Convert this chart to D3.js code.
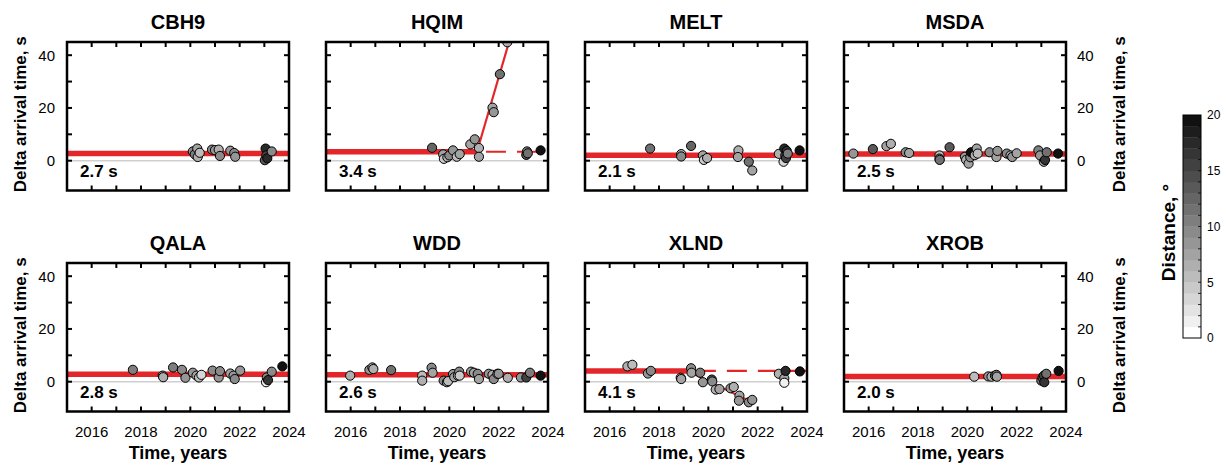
<!DOCTYPE html>
<html>
<head>
<meta charset="utf-8">
<script src="https://cdn.jsdelivr.net/npm/d3@7"></script>
<style>
  body { margin: 0; background: #fff; }
  text { font-family: "Liberation Sans", Arial, sans-serif; fill: #000; }
</style>
</head>
<body>
<div id="chart"></div>
<script>
// station names and the static offset for each (s)
const stations = ["CBH9", "HQIM", "MELT", "MSDA", "QALA", "WDD", "XLND", "XROB"];
const offsets = [2.7, 3.4, 2.1, 2.5, 2.8, 2.6, 4.1, 2.0];

// [year, delta arrival time, distance]
const cbh9 = [[2020.10, 3.5, 9], [2020.18, 2.4, 10], [2020.28, 4.6, 7], [2020.30, 1.4, 6], [2020.38, 3.0, 5],
  [2020.88, 4.2, 9], [2021.00, 4.0, 8], [2021.15, 4.2, 6], [2021.20, 1.8, 9], [2021.62, 3.8, 8],
  [2021.78, 2.9, 9], [2021.82, 1.5, 8], [2023.02, 0.2, 13], [2023.05, 4.6, 17], [2023.08, 2.0, 15],
  [2023.12, 0.9, 17], [2023.30, 3.5, 9]];
const hqim = [[2019.30, 4.9, 12], [2019.75, 2.4, 7], [2019.78, 0.7, 4], [2019.92, 1.3, 6], [2020.00, 2.0, 9],
  [2020.15, 3.9, 8], [2020.30, 1.5, 5], [2020.42, 2.5, 7], [2020.85, 6.2, 7], [2021.03, 8.1, 8],
  [2021.20, 4.8, 6], [2021.20, 1.5, 7], [2021.75, 20.1, 7], [2021.80, 18.4, 8], [2022.05, 32.8, 11],
  [2022.35, 44.9, 6], [2023.12, 2.2, 13], [2023.15, 3.5, 9], [2023.18, 2.8, 11], [2023.70, 3.9, 20]];
const melt = [[2017.64, 4.6, 11], [2018.90, 2.5, 6], [2018.90, 1.6, 9], [2019.30, 5.6, 12], [2019.78, 2.0, 7],
  [2019.82, 0.3, 4], [2019.95, 1.0, 6], [2021.22, 3.9, 6], [2021.20, 1.4, 7], [2021.64, -0.4, 11],
  [2021.78, -3.7, 7], [2022.86, 2.6, 6], [2023.05, -0.4, 3], [2023.08, 4.6, 17], [2023.12, 2.0, 14],
  [2023.15, 1.0, 15], [2023.18, 3.7, 16], [2023.22, 2.7, 10], [2023.70, 3.9, 20]];
const msda = [[2015.38, 2.7, 8], [2016.17, 4.4, 13], [2016.72, 5.5, 7], [2016.90, 6.4, 6], [2017.50, 3.2, 9],
  [2017.64, 2.9, 7], [2018.87, 2.0, 5], [2018.87, 0.8, 9], [2018.88, 0.3, 11], [2019.28, 5.1, 13],
  [2019.90, 1.5, 8], [2019.95, 0.3, 6], [2020.05, -1.1, 7], [2020.12, 1.3, 9], [2020.15, 3.2, 19],
  [2020.30, 2.1, 6], [2020.38, 4.6, 7], [2020.42, 2.7, 5], [2020.90, 3.2, 9], [2021.18, 1.4, 7],
  [2021.22, 3.7, 8], [2021.60, 2.7, 9], [2021.75, 2.0, 7], [2021.82, 1.4, 8], [2022.00, 2.8, 7],
  [2022.88, 3.9, 10], [2022.95, 2.0, 8], [2023.10, -0.4, 7], [2023.15, 0.3, 16], [2023.22, 3.2, 11],
  [2023.68, 2.7, 19]];
const qala = [[2017.67, 4.5, 10], [2018.88, 2.3, 8], [2018.90, 1.7, 6], [2019.30, 5.4, 10], [2019.66, 4.5, 9],
  [2019.80, 1.5, 8], [2020.10, 3.4, 8], [2020.25, 2.3, 7], [2020.35, 1.6, 5], [2020.45, 2.6, 3],
  [2020.90, 4.2, 9], [2021.15, 1.6, 8], [2021.20, 4.0, 9], [2021.62, 3.1, 7], [2021.75, 2.3, 8],
  [2021.80, 1.0, 9], [2022.02, 4.2, 8], [2023.07, -0.2, 1], [2023.10, 1.6, 9], [2023.15, 0.6, 16],
  [2023.30, 3.8, 9], [2023.73, 5.8, 20]];
const wdd = [[2015.98, 2.3, 6], [2016.76, 4.5, 8], [2016.88, 5.4, 7], [2016.92, 4.8, 6], [2017.64, 4.4, 11],
  [2018.90, 2.3, 5], [2018.90, 0.4, 6], [2019.28, 5.3, 9], [2019.32, 3.4, 7], [2019.77, 0.4, 9],
  [2019.90, -0.2, 7], [2019.95, 0.2, 5], [2020.15, 2.9, 8], [2020.20, 1.7, 7], [2020.35, 2.3, 6],
  [2020.40, 3.8, 9], [2020.42, 2.3, 4], [2020.88, 3.8, 8], [2021.00, 3.4, 7], [2021.15, 3.0, 9],
  [2021.20, 1.0, 7], [2021.60, 3.0, 8], [2021.75, 2.6, 6], [2021.80, 1.0, 9], [2021.95, 3.0, 7],
  [2022.00, 3.0, 8], [2022.37, 1.5, 6], [2022.90, 1.6, 8], [2023.12, 1.6, 15], [2023.27, 3.4, 10],
  [2023.70, 2.3, 20]];
const xlnd = [[2016.72, 5.8, 6], [2016.92, 6.4, 5], [2017.55, 3.1, 8], [2017.67, 4.1, 9], [2018.88, 1.5, 6],
  [2018.90, 1.0, 7], [2019.30, 5.1, 9], [2019.32, 3.4, 7], [2019.67, 3.4, 10], [2019.78, -0.2, 8],
  [2020.14, 0.8, 13], [2020.16, 0.1, 9], [2020.30, -3.0, 6], [2020.45, -2.8, 7], [2020.90, -2.5, 8],
  [2021.03, -2.0, 6], [2021.26, -5.3, 7], [2021.24, -7.2, 8], [2021.64, -7.8, 9], [2021.78, -6.9, 8],
  [2022.86, 3.0, 6], [2023.08, 1.3, 7], [2023.08, -0.4, 1], [2023.13, 4.1, 17], [2023.71, 3.9, 20]];
const xrob = [[2020.28, 1.9, 5], [2020.85, 2.0, 8], [2020.98, 1.9, 6], [2021.12, 2.3, 9], [2021.18, 2.6, 10],
  [2021.20, 1.9, 7], [2023.00, 0.4, 11], [2023.05, 1.6, 13], [2023.10, 2.3, 15], [2023.12, -0.2, 16],
  [2023.20, 3.0, 11], [2023.70, 4.1, 19]];
const stationPoints = [cbh9, hqim, melt, msda, qala, wdd, xlnd, xrob];

// stations with a break: year the offset ends, then the drift segment
const breakYears = [null, 2021.12, null, null, null, null, 2019.13, null];
const driftEnds = [null, [2022.42, 45], null, null, null, null, [2021.82, -8.0], null];

const xTickLabels = [2016, 2018, 2020, 2022, 2024];
const yTickLabels = [0, 20, 40];
const cbarTicks = [0, 5, 10, 15, 20];

const W = 1226, H = 469;
const svg = d3.select("#chart").append("svg")
  .attr("width", W).attr("height", H);

const panelW = 222, panelH = 148.5;
const colX = [67, 326, 585, 844];
const rowY = [42, 263];

const x = d3.scaleLinear().domain([2015, 2024]).range([0, panelW]);
const y = d3.scaleLinear().domain([-11.3, 45]).range([panelH, 0]);
const grey = d3.scaleQuantize().domain([0, 20])
  .range(d3.range(20).map(i => d3.interpolateRgb("#ffffff", "#111111")(Math.pow(i / 19, 0.95))));
const red = "#e3262a";

stations.forEach((name, i) => {
  const col = i % 4, row = Math.floor(i / 4);
  const g = svg.append("g")
    .attr("transform", "translate(" + colX[col] + "," + rowY[row] + ")");

  g.append("clipPath").attr("id", "clip" + i)
    .append("rect").attr("width", panelW).attr("height", panelH);
  const inner = g.append("g").attr("clip-path", "url(#clip" + i + ")");

  // zero line
  inner.append("line")
    .attr("x1", 0).attr("x2", panelW)
    .attr("y1", y(0)).attr("y2", y(0))
    .attr("stroke", "#cfcfcf").attr("stroke-width", 1.5);

  // offset line
  const brk = breakYears[i];
  inner.append("line")
    .attr("x1", 0).attr("x2", brk ? x(brk) : panelW)
    .attr("y1", y(offsets[i])).attr("y2", y(offsets[i]))
    .attr("stroke", red).attr("stroke-width", 5.5);

  if (brk) {
    inner.append("line")
      .attr("x1", x(brk)).attr("x2", panelW)
      .attr("y1", y(offsets[i])).attr("y2", y(offsets[i]))
      .attr("stroke", red).attr("stroke-width", 2.2)
      .attr("stroke-dasharray", "20,11")
      .attr("stroke-dashoffset", 22);
    inner.append("line")
      .attr("x1", x(brk)).attr("y1", y(offsets[i]))
      .attr("x2", x(driftEnds[i][0])).attr("y2", y(driftEnds[i][1]))
      .attr("stroke", red).attr("stroke-width", 2.2);
  }

  inner.selectAll("circle")
    .data(stationPoints[i])
    .enter().append("circle")
    .attr("cx", d => x(d[0]))
    .attr("cy", d => y(d[1]))
    .attr("r", 4.6)
    .attr("fill", d => grey(d[2]))
    .attr("stroke", "#000")
    .attr("stroke-width", 1);

  // ticks, inward on all sides
  const tk = 5;
  d3.range(2016, 2024).forEach(yr => {
    g.append("line").attr("x1", x(yr)).attr("x2", x(yr))
      .attr("y1", panelH).attr("y2", panelH - tk)
      .attr("stroke", "#000").attr("stroke-width", 2);
    g.append("line").attr("x1", x(yr)).attr("x2", x(yr))
      .attr("y1", 0).attr("y2", tk)
      .attr("stroke", "#000").attr("stroke-width", 2);
  });
  d3.range(0, 41, 10).forEach(v => {
    g.append("line").attr("x1", 0).attr("x2", tk)
      .attr("y1", y(v)).attr("y2", y(v))
      .attr("stroke", "#000").attr("stroke-width", 2);
    g.append("line").attr("x1", panelW).attr("x2", panelW - tk)
      .attr("y1", y(v)).attr("y2", y(v))
      .attr("stroke", "#000").attr("stroke-width", 2);
  });

  // frame
  g.append("rect")
    .attr("width", panelW).attr("height", panelH)
    .attr("fill", "none").attr("stroke", "#000").attr("stroke-width", 2.5);

  // title
  g.append("text")
    .attr("x", panelW / 2).attr("y", -13)
    .attr("text-anchor", "middle")
    .style("font-size", "20px").style("font-weight", "bold")
    .text(name);

  // offset label
  g.append("text")
    .attr("x", 13).attr("y", panelH - 14)
    .style("font-size", "17px").style("font-weight", "bold")
    .text(offsets[i].toFixed(1) + " s");

  // y tick labels + label on outer columns
  if (col === 0 || col === 3) {
    const left = col === 0;
    yTickLabels.forEach(v => {
      g.append("text")
        .attr("x", left ? -12 : panelW + 11)
        .attr("y", y(v)).attr("dy", "0.36em")
        .attr("text-anchor", left ? "end" : "start")
        .style("font-size", "15px")
        .text(v);
    });
    g.append("text")
      .attr("transform", "translate(" + (left ? -47 : panelW + 53) + "," + (panelH / 2 - 2) + ") rotate(-90)")
      .attr("text-anchor", "middle").attr("dy", "0.36em")
      .style("font-size", "17px").style("font-weight", "bold")
      .text("Delta arrival time, s");
  }

  // x tick labels on bottom row
  if (row === 1) {
    xTickLabels.forEach(v => {
      g.append("text")
        .attr("x", x(v)).attr("y", panelH + 25)
        .attr("text-anchor", "middle")
        .style("font-size", "15px")
        .text(v);
    });
    g.append("text")
      .attr("x", panelW / 2).attr("y", panelH + 47)
      .attr("text-anchor", "middle")
      .style("font-size", "18px").style("font-weight", "bold")
      .text("Time, years");
  }
});

// colour bar
const cb = svg.append("g").attr("transform", "translate(1183,115)");
const cbW = 18, cbH = 223;
const cy = d3.scaleLinear().domain([0, 20]).range([cbH, 0]);
cb.selectAll("rect.step")
  .data(d3.range(20))
  .enter().append("rect")
  .attr("class", "step")
  .attr("x", 0).attr("width", cbW)
  .attr("y", d => cy(d + 1)).attr("height", cy(0) - cy(1) + 0.3)
  .attr("fill", d => grey(d + 0.5));
d3.range(1, 20).forEach(v => {
  cb.append("line").attr("x1", cbW - 3).attr("x2", cbW)
    .attr("y1", cy(v)).attr("y2", cy(v))
    .attr("stroke", "#000").attr("stroke-width", 0.8);
});
cb.append("rect")
  .attr("width", cbW).attr("height", cbH)
  .attr("fill", "none").attr("stroke", "#000").attr("stroke-width", 1);
cbarTicks.forEach(v => {
  cb.append("text")
    .attr("x", cbW + 6).attr("y", cy(v)).attr("dy", "0.36em")
    .style("font-size", "12px")
    .text(v);
});
cb.append("text")
  .attr("transform", "translate(-15," + (cbH / 2 + 6) + ") rotate(-90)")
  .attr("text-anchor", "middle").attr("dy", "0.36em")
  .style("font-size", "19px").style("font-weight", "bold")
  .text("Distance, °");
</script>
</body>
</html>
